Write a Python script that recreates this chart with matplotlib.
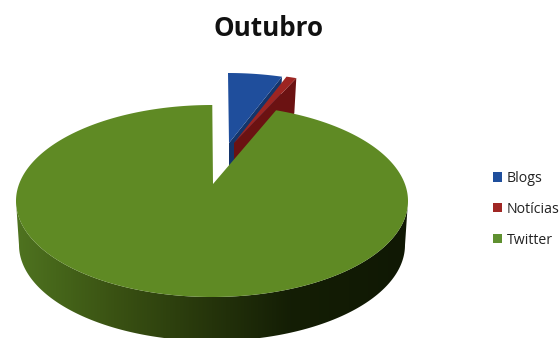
import numpy as np
import matplotlib
matplotlib.use("Agg")
import matplotlib.pyplot as plt
from matplotlib.patches import Polygon, Patch
from matplotlib.colors import LinearSegmentedColormap

categories = ["Blogs", "Notícias", "Twitter"]
shares = [4.4, 0.9, 94.7]
top_colors = ["#1f4e9c", "#9d2522", "#5f8a24"]
cut_colors = ["#14356b", "#6b1212", "#3d5a15"]
legend_colors = ["#1f4e9c", "#a02724", "#5f9030"]
title_text = "Outubro"

# Pie geometry in pixel units
CX, CY, RX, RY = 212.0, 201.0, 196.0, 96.0
APEX_X, APEX_Y = 213.0, 184.0
DEPTH = 44.0
BASE_RX = 193.0
explode = [(16, -32), (21, -32), (0, 0)]
APEX_LIFT = -9.0

fig = plt.figure(figsize=(5.6, 3.38), dpi=100)
ax = fig.add_axes([0, 0, 1, 1])
ax.set_xlim(0, 560)
ax.set_ylim(338, 0)
ax.axis("off")


def rim(t, rx=RX, dy=0.0):
    return np.column_stack([CX + rx * np.sin(t), CY - RY * np.cos(t) + dy])


def draw_wedge(start, end, off, top, cut, z):
    t = np.radians(np.arange(start, end + 0.25, 0.5))
    outer = rim(t) + off
    apex = np.array([APEX_X, APEX_Y + APEX_LIFT]) + off
    # cut face along the trailing edge, extruded downward
    edge_end = outer[-1]
    ax.add_patch(Polygon([apex, edge_end, edge_end + (-2, DEPTH * 0.8),
                          apex + (0, DEPTH * 0.8)],
                         closed=True, fc=cut, ec="none", zorder=z))
    ax.add_patch(Polygon(np.vstack([apex, outer]), closed=True,
                         fc=top, ec="none", zorder=z + 0.1))


edges = np.concatenate([[0], np.cumsum(shares)]) * 3.6

# Exploded small slices sit behind the main slice
for i in (0, 1):
    draw_wedge(edges[i], edges[i + 1], np.array(explode[i], dtype=float),
               top_colors[i], cut_colors[i], 2 + i)

# Outer wall of the large slice: a horizontal gradient clipped to the wall outline
wall_cmap = LinearSegmentedColormap.from_list(
    "wall", [(0.0, "#4f7320"), (0.10, "#46661a"), (0.25, "#3a5213"),
             (0.50, "#25340b"), (0.70, "#141e05"), (1.0, "#101804")])
front = np.radians(np.arange(90, 270.5, 1.0))
outline = np.vstack([rim(front), rim(front[::-1], BASE_RX, DEPTH)])
wall = Polygon(outline, closed=True, fc="none", ec="none", transform=ax.transData)
ax.add_patch(wall)
gradient = ax.imshow(np.linspace(0, 1, 256)[None, :], cmap=wall_cmap, aspect="auto",
                     extent=(CX - RX, CX + RX, 345, 190), zorder=5)
gradient.set_clip_path(wall)
ax.set_xlim(0, 560)
ax.set_ylim(338, 0)

# Top face of the large slice
t = np.radians(np.arange(edges[2], edges[3] + 0.25, 0.5))
ax.add_patch(Polygon(np.vstack([[APEX_X, APEX_Y], rim(t)]), closed=True,
                     fc=top_colors[2], ec="none", zorder=6))

ax.text(268.5, 29, title_text, ha="center", va="center", fontsize=18.7,
        fontweight="bold", family="Open Sans", color="#111111")

handles = [Patch(fc=c, ec="none", label=l)
           for c, l in zip(legend_colors, categories)]
ax.legend(handles=handles, loc="upper left", bbox_to_anchor=(493 / 560, 1 - 171 / 338),
          frameon=False, handlelength=0.62, handleheight=0.62, handletextpad=0.35,
          labelspacing=1.12, borderpad=0, borderaxespad=0,
          prop={"family": "Open Sans", "size": 10.2}, labelcolor="#222222")

fig.savefig("out.png", dpi=100)
